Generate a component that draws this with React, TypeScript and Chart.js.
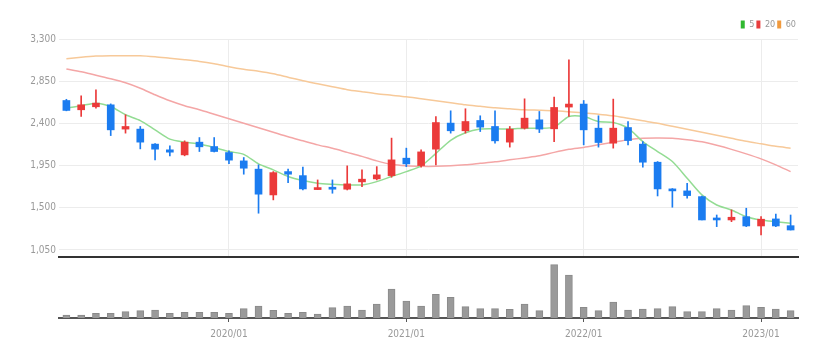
import React, { useEffect, useRef } from 'react';
import { Chart, registerables } from 'chart.js';

Chart.register(...registerables);

const months = [
  '2019/02', '2019/03', '2019/04', '2019/05', '2019/06', '2019/07', '2019/08', '2019/09', '2019/10', '2019/11', '2019/12',
  '2020/01', '2020/02', '2020/03', '2020/04', '2020/05', '2020/06', '2020/07', '2020/08', '2020/09', '2020/10', '2020/11', '2020/12',
  '2021/01', '2021/02', '2021/03', '2021/04', '2021/05', '2021/06', '2021/07', '2021/08', '2021/09', '2021/10', '2021/11', '2021/12',
  '2022/01', '2022/02', '2022/03', '2022/04', '2022/05', '2022/06', '2022/07', '2022/08', '2022/09', '2022/10', '2022/11', '2022/12',
  '2023/01', '2023/02', '2023/03',
];

const opens = [2644, 2545, 2577, 2598, 2339, 2339, 2179, 2118, 2064, 2200, 2153, 2089, 2000, 1912, 1637, 1886, 1843, 1694, 1719, 1698, 1776, 1808, 1843, 2029, 1950, 2125, 2403, 2321, 2431, 2367, 2200, 2349, 2438, 2342, 2574, 2606, 2349, 2189, 2356, 2179, 1986, 1701, 1680, 1619, 1388, 1370, 1405, 1306, 1381, 1309];
const highs = [2657, 2694, 2759, 2608, 2492, 2367, 2185, 2160, 2214, 2249, 2249, 2107, 2036, 1958, 1886, 1912, 1933, 1797, 1797, 1947, 1904, 1939, 2243, 2136, 2118, 2473, 2534, 2556, 2481, 2534, 2367, 2662, 2527, 2681, 3079, 2644, 2481, 2659, 2420, 2206, 1993, 1705, 1762, 1626, 1423, 1477, 1495, 1405, 1434, 1423];
const lows = [2534, 2473, 2563, 2270, 2296, 2128, 2011, 2054, 2054, 2100, 2095, 1971, 1858, 1442, 1584, 1769, 1690, 1694, 1655, 1690, 1726, 1797, 1826, 1939, 1933, 1958, 2296, 2296, 2313, 2189, 2147, 2339, 2302, 2206, 2473, 2171, 2147, 2136, 2171, 1933, 1626, 1506, 1602, 1370, 1299, 1352, 1299, 1210, 1299, 1263];
const closes = [2538, 2598, 2616, 2331, 2367, 2200, 2125, 2093, 2200, 2150, 2100, 2008, 1922, 1645, 1875, 1858, 1701, 1715, 1698, 1755, 1805, 1851, 2011, 1968, 2096, 2409, 2321, 2420, 2360, 2214, 2339, 2456, 2339, 2570, 2606, 2331, 2196, 2349, 2217, 1986, 1701, 1680, 1630, 1370, 1370, 1399, 1306, 1378, 1306, 1263];

const ma5 = [2563, 2588, 2616, 2580, 2492, 2430, 2331, 2232, 2200, 2179, 2142, 2100, 2070, 1968, 1904, 1833, 1790, 1762, 1751, 1744, 1744, 1779, 1833, 1886, 1947, 2080, 2220, 2300, 2339, 2342, 2339, 2349, 2349, 2360, 2473, 2473, 2420, 2410, 2349, 2206, 2100, 1993, 1815, 1637, 1530, 1477, 1405, 1370, 1352, 1335];
const ma20 = [2980, 2951, 2913, 2876, 2833, 2775, 2705, 2641, 2588, 2545, 2497, 2449, 2401, 2353, 2305, 2257, 2214, 2171, 2134, 2091, 2048, 2000, 1963, 1947, 1942, 1942, 1947, 1958, 1974, 1990, 2011, 2032, 2054, 2091, 2123, 2144, 2171, 2198, 2225, 2241, 2243, 2241, 2225, 2203, 2166, 2123, 2075, 2022, 1958, 1886];
const ma60 = [3090, 3106, 3118, 3122, 3122, 3122, 3111, 3095, 3079, 3061, 3036, 3004, 2977, 2956, 2929, 2892, 2855, 2823, 2791, 2759, 2737, 2716, 2700, 2684, 2662, 2641, 2620, 2598, 2582, 2566, 2556, 2545, 2540, 2534, 2524, 2513, 2497, 2481, 2454, 2427, 2401, 2369, 2337, 2305, 2273, 2241, 2209, 2182, 2155, 2136];

const volumes = [3000, 3000, 4700, 4700, 6300, 7300, 8000, 4700, 5700, 5700, 5700, 4700, 9300, 12000, 7700, 4700, 5700, 4000, 10300, 12000, 8000, 14000, 29000, 17000, 12000, 23700, 20700, 11300, 9300, 9300, 8700, 14000, 7300, 53300, 43000, 10700, 7300, 16000, 8000, 9000, 9300, 11300, 6300, 6300, 9300, 8000, 12300, 10700, 9000, 7300];

const priceTicks = [1050, 1500, 1950, 2400, 2850, 3300];
const maLabels = ['5', '20', '60'];

const FONT = "'Liberation Sans Narrow', 'DejaVu Sans Condensed', 'Liberation Sans', sans-serif";
const UP = '#eb3a3a';
const DOWN = '#1b7cf0';
const MA_LINE = ['#93dc93', '#f4a6a6', '#f7c999'];
const MA_BOX = ['#2fb82f', '#e83d3d', '#f09a3e'];

const isJan = (i: number) => !!months[i] && months[i].endsWith('/01');

export default function App() {
  const priceRef = useRef<HTMLCanvasElement>(null);
  const volRef = useRef<HTMLCanvasElement>(null);

  useEffect(() => {
    const colors = opens.map((o, i) => (closes[i] >= o ? UP : DOWN));

    const priceChart = new Chart(priceRef.current as HTMLCanvasElement, {
      type: 'bar',
      data: {
        labels: months,
        datasets: [
          { type: 'line', label: maLabels[0], data: ma5, borderColor: MA_LINE[0], backgroundColor: MA_BOX[0], borderWidth: 1.5, pointRadius: 0, tension: 0.25, order: 2 } as any,
          { type: 'line', label: maLabels[1], data: ma20, borderColor: MA_LINE[1], backgroundColor: MA_BOX[1], borderWidth: 1.5, pointRadius: 0, tension: 0.25, order: 2 } as any,
          { type: 'line', label: maLabels[2], data: ma60, borderColor: MA_LINE[2], backgroundColor: MA_BOX[2], borderWidth: 1.5, pointRadius: 0, tension: 0.25, order: 2 } as any,
          { type: 'bar', label: 'wick', data: lows.map((l, i) => [l, highs[i]]), backgroundColor: colors, barThickness: 1, grouped: false, order: 1 } as any,
          { type: 'bar', label: 'body', data: opens.map((o, i) => [o, closes[i]]), backgroundColor: colors, barThickness: 7, minBarLength: 2, grouped: false, order: 0 } as any,
        ],
      },
      options: {
        responsive: false,
        animation: false,
        events: [],
        layout: { padding: { top: 18, right: 40, left: 0, bottom: 2 } },
        plugins: {
          legend: {
            display: true,
            position: 'top',
            align: 'end',
            labels: {
              boxWidth: 4,
              boxHeight: 8,
              padding: 2,
              color: '#999',
              font: { family: FONT, size: 9 },
              generateLabels: () =>
                maLabels.map((t, i) => ({
                  text: t,
                  fillStyle: MA_BOX[i],
                  strokeStyle: MA_BOX[i],
                  lineWidth: 0,
                  hidden: false,
                  datasetIndex: i,
                  fontColor: '#999',
                })) as any,
            },
          },
          tooltip: { enabled: false },
        },
        scales: {
          x: {
            ticks: { display: false, autoSkip: false },
            grid: {
              offset: false,
              drawTicks: false,
              color: (c: any) => (isJan(c.index) ? '#ececec' : 'rgba(0,0,0,0)'),
            },
            border: { display: true, color: '#333', width: 2 },
          },
          y: {
            min: 975,
            max: 3300,
            afterBuildTicks: (s: any) => {
              s.ticks = priceTicks.map((v) => ({ value: v }));
            },
            afterFit: (s: any) => {
              s.width = 59;
            },
            grid: { color: '#ececec', drawTicks: false },
            border: { display: false },
            ticks: {
              color: '#999',
              padding: 3,
              font: { family: FONT, size: 10 },
              callback: (v: any) => Number(v).toLocaleString('en-US'),
            },
          },
        },
      } as any,
    });

    const volChart = new Chart(volRef.current as HTMLCanvasElement, {
      type: 'bar',
      data: {
        labels: months,
        datasets: [
          { label: 'volume', data: volumes, backgroundColor: '#9a9a9a', borderColor: '#8a8a8a', borderWidth: 1, barThickness: 7 },
        ],
      },
      options: {
        responsive: false,
        animation: false,
        events: [],
        layout: { padding: { top: 2, left: 59, right: 40, bottom: 0 } },
        plugins: { legend: { display: false }, tooltip: { enabled: false } },
        scales: {
          x: {
            afterFit: (s: any) => {
              s.height = 39;
            },
            grid: {
              offset: false,
              drawOnChartArea: false,
              drawTicks: true,
              tickLength: 4,
              color: (c: any) => (isJan(c.index) ? '#555' : 'rgba(0,0,0,0)'),
            },
            border: { display: true, color: '#555', width: 2 },
            ticks: {
              autoSkip: false,
              maxRotation: 0,
              padding: 6,
              color: '#999',
              font: { family: FONT, size: 10 },
              callback: (_v: any, i: number) => (isJan(i) ? months[i] : ''),
            },
          },
          y: { display: false, min: 0, max: 59000 },
        },
      } as any,
    });

    return () => {
      priceChart.destroy();
      volChart.destroy();
    };
  }, []);

  return (
    <div style={{ position: 'fixed', left: 0, top: 0, width: 838, height: 357, background: '#fff' }}>
      <canvas ref={priceRef} width={838} height={266} style={{ position: 'absolute', left: 0, top: 0, width: 838, height: 266 }} />
      <canvas ref={volRef} width={838} height={100} style={{ position: 'absolute', left: 0, top: 257, width: 838, height: 100 }} />
    </div>
  );
}
